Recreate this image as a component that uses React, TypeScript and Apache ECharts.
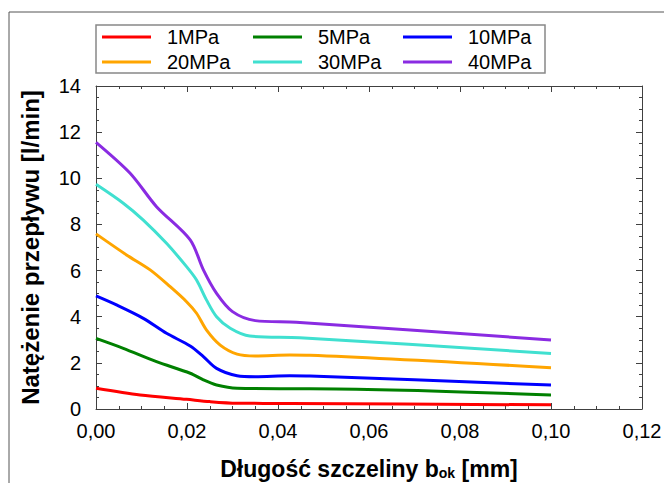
import React, { useEffect, useRef } from "react";
import * as echarts from "echarts";

const seriesNames = ["1MPa", "5MPa", "10MPa", "20MPa", "30MPa", "40MPa"];
const seriesColors = ["#ff0000", "#008000", "#0000ff", "#ffa500", "#40e0d0", "#8a2be2"];

const redX = [0, 0.0097, 0.0199, 0.025, 0.031, 0.0426, 0.1];
const redY = [0.9, 0.61, 0.42, 0.32, 0.25, 0.24, 0.18];

const greenX = [0, 0.006, 0.0133, 0.0207, 0.0236, 0.0265, 0.031, 0.0426, 0.047, 0.1];
const greenY = [3.06, 2.63, 2.05, 1.55, 1.26, 1.04, 0.9, 0.88, 0.88, 0.61];

const blueX = [0, 0.0045, 0.0104, 0.0155, 0.0207, 0.0236, 0.0265, 0.031, 0.035, 0.0426, 0.047, 0.1];
const blueY = [4.9, 4.51, 3.93, 3.28, 2.73, 2.27, 1.76, 1.44, 1.4, 1.44, 1.43, 1.04];

const orangeX = [0, 0.0067, 0.0119, 0.0163, 0.0199, 0.0221, 0.0243, 0.0273, 0.031, 0.035, 0.0426, 0.047, 0.1];
const orangeY = [7.59, 6.68, 6.03, 5.3, 4.65, 4.15, 3.42, 2.77, 2.38, 2.3, 2.34, 2.33, 1.79];

const cyanX = [0, 0.006, 0.0104, 0.0155, 0.0199, 0.0221, 0.0243, 0.0265, 0.0295, 0.0338, 0.0448, 0.1];
const cyanY = [9.74, 8.92, 8.19, 7.18, 6.17, 5.59, 4.72, 4.0, 3.5, 3.16, 3.09, 2.41];

const purpleX = [0, 0.0075, 0.0133, 0.0207, 0.0236, 0.0265, 0.03, 0.035, 0.044, 0.1];
const purpleY = [11.56, 10.22, 8.77, 7.33, 6.03, 5.01, 4.22, 3.83, 3.76, 2.99];

const allX = [redX, greenX, blueX, orangeX, cyanX, purpleX];
const allY = [redY, greenY, blueY, orangeY, cyanY, purpleY];

const xTickLabelFormat = (v: number) => v.toFixed(2).replace(".", ",");

const FONT = "Liberation Sans, Arial, sans-serif";
const AXIS_COLOR = "#404040";

export default function App() {
  const ref = useRef<HTMLDivElement>(null);
  useEffect(() => {
    if (!ref.current) return;
    const chart = echarts.init(ref.current, undefined, { renderer: "svg" });

    const baseX = {
      type: "value",
      min: 0,
      max: 0.12,
      interval: 0.02,
      axisLine: { show: true, onZero: false, lineStyle: { color: AXIS_COLOR, width: 1 } },
      axisTick: { show: true, inside: true, length: 6, lineStyle: { color: AXIS_COLOR } },
      minorTick: { show: true, splitNumber: 4, length: 3, lineStyle: { color: AXIS_COLOR } },
      splitLine: { show: false },
    };
    const baseY = {
      type: "value",
      min: 0,
      max: 14,
      interval: 2,
      axisLine: { show: true, onZero: false, lineStyle: { color: AXIS_COLOR, width: 1 } },
      axisTick: { show: true, inside: true, length: 6, lineStyle: { color: AXIS_COLOR } },
      minorTick: { show: true, splitNumber: 4, length: 3, lineStyle: { color: AXIS_COLOR } },
      splitLine: { show: false },
    };

    const legendLefts = [102, 253, 403];
    const legendTops = [27, 52];
    const legends = seriesNames.map((name, i) => ({
      data: [name],
      left: legendLefts[i % 3],
      top: legendTops[Math.floor(i / 3)],
      padding: 0,
      icon: "rect",
      itemWidth: 49,
      itemHeight: 3,
      selectedMode: false,
      textStyle: {
        fontFamily: FONT,
        fontSize: 20,
        color: "#000",
        padding: [0, 0, 0, 11],
      },
    }));

    chart.setOption({
      animation: false,
      backgroundColor: "#fff",
      textStyle: { fontFamily: FONT },
      grid: {
        left: 96,
        top: 86,
        right: 22,
        bottom: 74,
        containLabel: false,
        outerBoundsMode: "none",
      },
      legend: legends,
      graphic: [
        {
          type: "rect",
          shape: { x: 9, y: 12, width: 700, height: 520 },
          style: { fill: "none", stroke: "#555", lineWidth: 1 },
          silent: true,
          z: -1,
        },
        {
          type: "rect",
          shape: { x: 96, y: 25, width: 449, height: 48 },
          style: { fill: "none", stroke: "#888", lineWidth: 1.5 },
          silent: true,
        },
      ],
      xAxis: [
        {
          ...baseX,
          position: "bottom",
          axisLabel: {
            show: true,
            fontFamily: FONT,
            fontSize: 20,
            color: "#000",
            margin: 12,
            formatter: xTickLabelFormat,
          },
          name: "Długość szczeliny b{sub|ok} [mm]",
          nameLocation: "middle",
          nameGap: 48,
          nameTextStyle: {
            fontFamily: FONT,
            fontSize: 23,
            fontWeight: "bold",
            color: "#000",
            rich: {
              sub: {
                fontFamily: FONT,
                fontSize: 14,
                fontWeight: "bold",
                color: "#000",
                verticalAlign: "bottom",
                padding: [9, 0, 0, 0],
              },
            },
          },
        },
        {
          ...baseX,
          position: "top",
          axisLabel: { show: false },
        },
      ],
      yAxis: [
        {
          ...baseY,
          position: "left",
          axisLabel: {
            show: true,
            fontFamily: FONT,
            fontSize: 20,
            color: "#000",
            margin: 15,
          },
          name: "Natężenie przepływu [l/min]",
          nameLocation: "middle",
          nameGap: 54,
          nameTextStyle: {
            fontFamily: FONT,
            fontSize: 24,
            fontWeight: "bold",
            color: "#000",
          },
        },
        {
          ...baseY,
          position: "right",
          axisLabel: { show: false },
        },
      ],
      series: seriesNames.map((name, i) => ({
        name,
        type: "line",
        xAxisIndex: 0,
        yAxisIndex: 0,
        data: allX[i].map((x, j) => [x, allY[i][j]]),
        showSymbol: false,
        symbol: "none",
        smooth: 0.3,
        color: seriesColors[i],
        lineStyle: { color: seriesColors[i], width: 3 },
        itemStyle: { color: seriesColors[i] },
      })),
    });
    return () => chart.dispose();
  }, []);
  return (
    <div
      ref={ref}
      style={{ position: "fixed", left: 0, top: 0, width: 664, height: 483 }}
    />
  );
}
